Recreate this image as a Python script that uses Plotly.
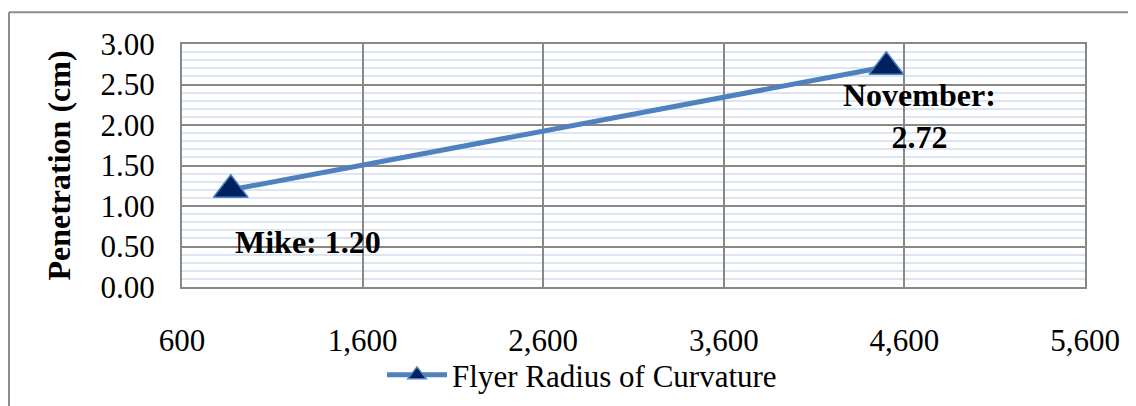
import plotly.graph_objects as go

series_name = "Flyer Radius of Curvature"
point_labels = ["Mike", "November"]
radius = [870, 4500]
penetration = [1.20, 2.72]
x_ticks = [600, 1600, 2600, 3600, 4600, 5600]
y_ticks = [0.0, 0.5, 1.0, 1.5, 2.0, 2.5, 3.0]

font_family = "Liberation Serif"

fig = go.Figure()
fig.add_trace(go.Scatter(
    x=radius, y=penetration, mode="lines+markers", name=series_name,
    line=dict(color="#4F81BD", width=5),
    marker=dict(symbol="triangle-up", size=30, color="#002060",
                line=dict(color="#4F81BD", width=1.5)),
))

fig.add_annotation(x=radius[0], y=penetration[0], text=f"<b>{point_labels[0]}: {penetration[0]:.2f}</b>",
                   showarrow=False, xanchor="center", yanchor="middle", xshift=77, yshift=-52,
                   font=dict(family=font_family, size=32, color="black"))
fig.add_annotation(x=radius[1], y=penetration[1], text=f"<b>{point_labels[1]}:<br>{penetration[1]:.2f}</b>",
                   showarrow=False, xanchor="center", yanchor="middle", xshift=33, yshift=-49,
                   font=dict(family=font_family, size=32, color="black"))

# outer chart border (left and top)
fig.add_shape(type="line", xref="paper", yref="paper", x0=-0.1916, x1=1.2, y0=1.1306, y1=1.1306,
              line=dict(color="#8c8c8c", width=2), layer="above")
fig.add_shape(type="line", xref="paper", yref="paper", x0=-0.1916, x1=-0.1916, y0=1.1306, y1=-0.6,
              line=dict(color="#8c8c8c", width=2), layer="above")

fig.update_layout(
    width=1136, height=406,
    margin=dict(l=174, r=59, t=36, b=125),
    paper_bgcolor="white", plot_bgcolor="white",
    font=dict(family=font_family, size=31, color="black"),
    showlegend=True,
    legend=dict(orientation="h", x=0.443, xanchor="center", y=-0.363, yanchor="middle",
                bgcolor="rgba(0,0,0,0)",
                font=dict(family=font_family, size=31), itemwidth=60),
    xaxis=dict(range=[600, 5600], tickvals=x_ticks, tickformat=",d",
               showgrid=True, gridcolor="#888888", gridwidth=2,
               showline=True, linecolor="#888888", linewidth=2, mirror=True,
               ticks="outside", ticklen=25, tickcolor="rgba(0,0,0,0)", zeroline=False),
    yaxis=dict(range=[0, 3], tickvals=y_ticks, tickformat=".2f",
               showgrid=True, gridcolor="#888888", gridwidth=2,
               showline=True, linecolor="#888888", linewidth=2, mirror=True,
               ticks="outside", ticklen=19, tickcolor="rgba(0,0,0,0)", zeroline=False,
               minor=dict(dtick=0.1, showgrid=True, gridcolor="#DCE6F2", gridwidth=2),
               title=dict(text="<b>Penetration (cm)</b>", font=dict(size=32), standoff=20)),
)

fig.write_html("out.html")
